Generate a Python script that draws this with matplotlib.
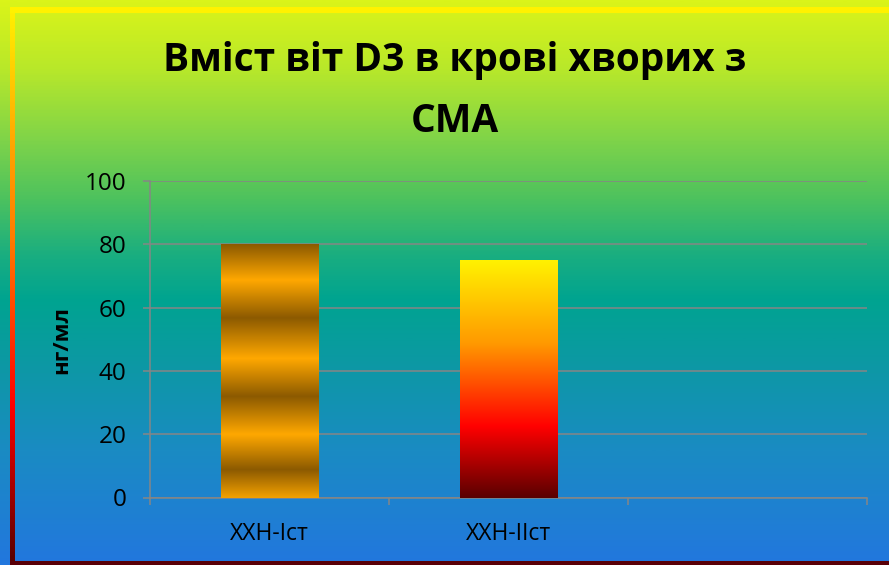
import numpy as np
import matplotlib
matplotlib.use("Agg")
import matplotlib.pyplot as plt
from matplotlib.colors import LinearSegmentedColormap

plt.rcParams['font.family'] = ['Open Sans', 'DejaVu Sans']

categories = ['ХХН-Іст', 'ХХН-ІІст', '']
values = [80, 75, np.nan]
title_lines = ['Вміст віт D3 в крові хворих з', 'СМА']
ylabel = 'нг/мл'

W, H = 889, 565
fig = plt.figure(figsize=(W / 100, H / 100), dpi=100)

# background gradient (top -> bottom)
bg = LinearSegmentedColormap.from_list('bg', [
    (0.0, '#DAF419'), (0.12, '#B8E82A'), (0.25, '#7DD34A'), (0.35, '#4DC25E'),
    (0.45, '#1AAE80'), (0.53, '#00A490'), (0.65, '#0D98A5'), (0.80, '#1A8BC3'),
    (1.0, '#2277DE')])
bax = fig.add_axes([0, 0, 1, 1], zorder=-10)
bax.imshow(np.linspace(0, 1, 400).reshape(-1, 1), cmap=bg, aspect='auto',
           extent=[0, W, H, 0])
# frame: left side gradient, top yellow, bottom dark red
edge = LinearSegmentedColormap.from_list('edge', [
    (0.0, '#FFF200'), (0.25, '#FFA500'), (0.42, '#FF7A00'), (0.72, '#FF0000'),
    (1.0, '#5A0000')])
bax.imshow(np.linspace(0, 1, 400).reshape(-1, 1), cmap=edge, aspect='auto',
           extent=[10, 15, 562, 7])
bax.fill_between([10, W], 7, 13, color='#FFF200', lw=0)
bax.fill_between([10, W], 561, H, color='#5A0008', lw=0)
bax.set_xlim(0, W)
bax.set_ylim(H, 0)
bax.axis('off')

ax = fig.add_axes([150 / W, 1 - 497.5 / H, (867 - 150) / W, (497.5 - 181) / H])
ax.patch.set_alpha(0)

x = np.arange(len(categories))
bars = ax.bar(x, values, width=0.41, color='none', zorder=3)

gold = LinearSegmentedColormap.from_list('gold', [
    (0.0, '#8C5A00'), (0.14, '#FFA800'), (0.29, '#8C5A00'), (0.45, '#FFA800'),
    (0.60, '#8C5A00'), (0.75, '#FFA800'), (0.89, '#8C5A00'), (1.0, '#F2A000')])
fire = LinearSegmentedColormap.from_list('fire', [
    (0.0, '#FFF200'), (0.35, '#FF9900'), (0.70, '#FF0000'), (1.0, '#5A0000')])
grad = np.linspace(0, 1, 256).reshape(-1, 1)
for b, cm in zip(bars[:2], [gold, fire]):
    x0, w, h = b.get_x(), b.get_width(), b.get_height()
    ax.imshow(grad, cmap=cm, aspect='auto', extent=[x0, x0 + w, 0, h],
              zorder=3, origin='upper')

ax.set_xlim(-0.5, 2.5)
ax.set_ylim(0, 100)
ax.set_yticks(range(0, 101, 20))
ax.set_xticks(x)
ax.set_xticklabels(categories)
ax.set_xticks([-0.5, 0.5, 1.5, 2.5], minor=True)
ax.tick_params(axis='x', which='major', length=0, pad=18, labelsize=16.5)
ax.tick_params(axis='x', which='minor', length=5, width=1.1, color='#868686')
ax.tick_params(axis='y', length=5, width=1.1, color='#868686', labelsize=17.5, pad=12)
ax.grid(axis='y', color='#868686', lw=1.1, zorder=1)
ax.set_axisbelow(True)
for s in ['top', 'right']:
    ax.spines[s].set_visible(False)
for s in ['left', 'bottom']:
    ax.spines[s].set_color('#868686')
    ax.spines[s].set_linewidth(1.1)

fig.text(62 / W, 1 - 340 / H, ylabel, rotation=90, ha='center', va='center',
         fontsize=16, fontweight='bold')

for ty, line in zip([61, 122], title_lines):
    fig.text(455 / W, 1 - ty / H, line, ha='center', va='center',
             fontsize=28, fontweight='bold')

fig.savefig('out.png', dpi=100)
